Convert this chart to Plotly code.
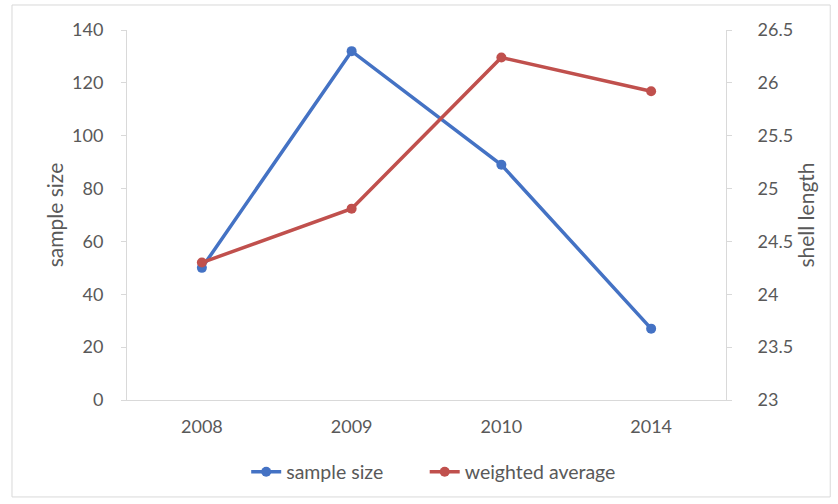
import plotly.graph_objects as go

years = ["2008", "2009", "2010", "2014"]
sample_size = [50, 132, 89, 27]
weighted_average = [24.30, 24.81, 26.24, 25.92]

BLUE = "#4472C4"
RED = "#C0504D"
TEXT = "#595959"
AXIS = "#D9D9D9"
FONT = "Lato, 'Open Sans', sans-serif"

fig = go.Figure()
fig.add_trace(go.Scatter(
    x=years, y=sample_size, name="sample size", mode="lines+markers",
    line=dict(color=BLUE, width=3.5), marker=dict(size=10, color=BLUE),
    yaxis="y", legend="legend",
))
fig.add_trace(go.Scatter(
    x=years, y=weighted_average, name="weighted average", mode="lines+markers",
    line=dict(color=RED, width=3.5), marker=dict(size=10, color=RED),
    yaxis="y2", legend="legend2",
))

legend_style = dict(orientation="h", xanchor="left", y=-0.195, yanchor="middle",
                    font=dict(size=19.5, color=TEXT), bgcolor="rgba(0,0,0,0)")

fig.update_layout(
    width=838, height=504,
    margin=dict(l=127, r=112, t=30, b=104),
    paper_bgcolor="white", plot_bgcolor="white",
    font=dict(family=FONT, size=18, color=TEXT),
    showlegend=True,
    legend=dict(x=0.199, **legend_style),
    legend2=dict(x=0.497, **legend_style),
    xaxis=dict(
        type="category", range=[-0.5, 3.5], showgrid=False, showline=True,
        linecolor=AXIS, linewidth=1, ticks="", ticklabelstandoff=10,
        tickfont=dict(size=18, color=TEXT), zeroline=False,
    ),
    yaxis=dict(
        range=[0, 140], dtick=20, showgrid=False, showline=True, linecolor=AXIS,
        ticks="outside", ticklen=5, tickcolor=AXIS, zeroline=False,
        ticklabelstandoff=14,
        title=dict(text="sample size", font=dict(size=21, color=TEXT), standoff=2),
        tickfont=dict(size=18, color=TEXT),
    ),
    yaxis2=dict(
        range=[23, 26.5], dtick=0.5, overlaying="y", side="right", showgrid=False,
        showline=True, linecolor=AXIS, ticks="outside", ticklen=5, tickcolor=AXIS,
        zeroline=False, ticklabelstandoff=22,
        title=dict(text="shell length", font=dict(size=21, color=TEXT), standoff=2),
        tickfont=dict(size=18, color=TEXT),
    ),
    shapes=[dict(
        type="rect", xref="paper", yref="paper",
        x0=-0.192, x1=1.174, y0=-0.262, y1=1.0676,
        line=dict(color="#D9D9D9", width=1), fillcolor="rgba(0,0,0,0)", layer="below",
    )],
)

fig.write_html("out.html")
